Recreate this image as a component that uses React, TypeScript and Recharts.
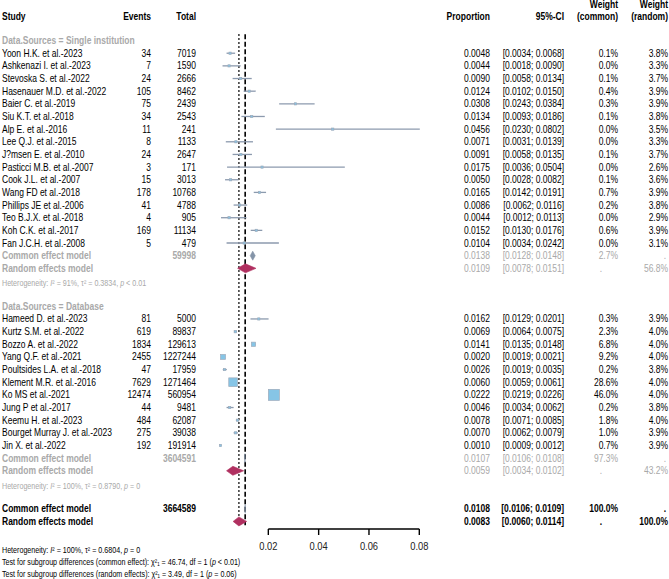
import React from 'react';
import { ComposedChart, Scatter, XAxis, YAxis, ReferenceLine } from 'recharts';

// ---------- data ----------
const singleNames = ['Yoon H.K. et al.-2023', 'Ashkenazi I. et al.-2023', 'Stevoska S. et al.-2022', 'Hasenauer M.D. et al.-2022', 'Baier C. et al.-2019', 'Siu K.T. et al.-2018', 'Alp E. et al.-2016', 'Lee Q.J. et al.-2015', 'J?msen E. et al.-2010', 'Pasticci M.B. et al.-2007', 'Cook J.L. et al.-2007', 'Wang FD et al.-2018', 'Phillips JE et al.-2006', 'Teo B.J.X. et al.-2018', 'Koh C.K. et al.-2017', 'Fan J.C.H. et al.-2008'];
const singleEvents = [34, 7, 24, 105, 75, 34, 11, 8, 24, 3, 15, 178, 41, 4, 169, 5];
const singleTotals = [7019, 1590, 2666, 8462, 2439, 2543, 241, 1133, 2647, 171, 3013, 10768, 4788, 905, 11134, 479];
const singleProp = [0.0048, 0.0044, 0.0090, 0.0124, 0.0308, 0.0134, 0.0456, 0.0071, 0.0091, 0.0175, 0.0050, 0.0165, 0.0086, 0.0044, 0.0152, 0.0104];
const singleLower = [0.0034, 0.0018, 0.0058, 0.0102, 0.0243, 0.0093, 0.0230, 0.0031, 0.0058, 0.0036, 0.0028, 0.0142, 0.0062, 0.0012, 0.0130, 0.0034];
const singleUpper = [0.0068, 0.0090, 0.0134, 0.0150, 0.0384, 0.0186, 0.0802, 0.0139, 0.0135, 0.0504, 0.0082, 0.0191, 0.0116, 0.0113, 0.0176, 0.0242];
const singleWCommon = [0.1, 0.0, 0.1, 0.4, 0.3, 0.1, 0.0, 0.0, 0.1, 0.0, 0.1, 0.7, 0.2, 0.0, 0.6, 0.0];
const singleWRandom = [3.8, 3.3, 3.7, 3.9, 3.9, 3.8, 3.5, 3.3, 3.7, 2.6, 3.6, 3.9, 3.8, 2.9, 3.9, 3.1];

const dbNames = ['Hameed D. et al.-2023', 'Kurtz S.M. et al.-2022', 'Bozzo A. et al.-2022', 'Yang Q.F. et al.-2021', 'Poultsides L.A. et al.-2018', 'Klement M.R. et al.-2016', 'Ko MS et al.-2021', 'Jung P et al.-2017', 'Keemu H. et al.-2023', 'Bourget Murray J. et al.-2023', 'Jin X. et al.-2022'];
const dbEvents = [81, 619, 1834, 2455, 47, 7629, 12474, 44, 484, 275, 192];
const dbTotals = [5000, 89837, 129613, 1227244, 17959, 1271464, 560954, 9481, 62087, 39038, 191914];
const dbProp = [0.0162, 0.0069, 0.0141, 0.0020, 0.0026, 0.0060, 0.0222, 0.0046, 0.0078, 0.0070, 0.0010];
const dbLower = [0.0129, 0.0064, 0.0135, 0.0019, 0.0019, 0.0059, 0.0219, 0.0034, 0.0071, 0.0062, 0.0009];
const dbUpper = [0.0201, 0.0075, 0.0148, 0.0021, 0.0035, 0.0061, 0.0226, 0.0062, 0.0085, 0.0079, 0.0012];
const dbWCommon = [0.3, 2.3, 6.8, 9.2, 0.2, 28.6, 46.0, 0.2, 1.8, 1.0, 0.7];
const dbWRandom = [3.9, 4.0, 4.0, 4.0, 3.8, 4.0, 4.0, 3.8, 4.0, 3.9, 3.9];

// pooled: [estimate, lower, upper]
const singleCommon = [0.0138, 0.0128, 0.0148];
const singleRandom = [0.0109, 0.0078, 0.0151];
const singleTotal = 59998;
const singleWeights = ['2.7%', '56.8%'];
const singleHet = ['91%', '0.3834', '< 0.01'];

const dbCommon = [0.0107, 0.0106, 0.0108];
const dbRandom = [0.0059, 0.0034, 0.0102];
const dbTotal = 3604591;
const dbWeights = ['97.3%', '43.2%'];
const dbHet = ['100%', '0.8790', '= 0'];

const overallCommon = [0.0108, 0.0106, 0.0109];
const overallRandom = [0.0083, 0.0060, 0.0114];
const overallTotal = 3664589;

const xTicks = [0.02, 0.04, 0.06, 0.08];

// ---------- styles ----------
const FONT = "'Liberation Sans', Arial, Helvetica, sans-serif";
const GREY = '#a9a9a9';
const CI_COLOR = '#8c9aae';
const SQ_FILL = '#86c5e6';
const SQ_STROKE = '#9eabbb';
const COMMON_DIAMOND = '#8494a8';
const RANDOM_DIAMOND = '#b03060';

const COL = { study: 2, events: 151, total: 196, prop: 490, ci: 564, wc: 618, wr: 668 };

const f4 = (v: number) => v.toFixed(4);
const ci = (lo: number, hi: number) => `[${f4(lo)}; ${f4(hi)}]`;
const pct = (v: number) => `${v.toFixed(1)}%`;

type TP = { x: number; y: number; anchor?: string; bold?: boolean; color?: string; size?: number; children?: any };
const Txt = ({ x, y, anchor = 'start', bold = false, color = '#000', size = 10, children }: TP) => (
  <text
    transform={`translate(${x},${y}) scale(0.85,1)`}
    textAnchor={anchor as any}
    dy="0.35em"
    fontFamily={FONT}
    fontSize={size}
    fontWeight={bold ? 'bold' : 'normal'}
    fill={color}
  >
    {children}
  </text>
);

const HetText = ({ x, y, color, vals }: { x: number; y: number; color: string; vals: string[] }) => (
  <Txt x={x} y={y} size={8.4} color={color}>
    Heterogeneity: <tspan fontStyle="italic">I</tspan>² = {vals[0]}, τ² = {vals[1]}, <tspan fontStyle="italic">p</tspan> {vals[2]}
  </Txt>
);

// ---------- rows ----------
type Row = any;
const rows: Row[] = [];
const studies: Row[] = [];

const addGroup = (
  start: number, title: string, names: string[], ev: number[], tot: number[], p: number[], lo: number[], hi: number[],
  wc: number[], wr: number[], total: number, com: number[], ran: number[], w: string[], het: string[]
) => {
  rows.push({ x: 0, y: start - 1, kind: 'group', label: title });
  names.forEach((n, i) => {
    const r = { x: p[i], y: start + i, kind: 'study', name: n, ev: ev[i], tot: tot[i], p: p[i], lo: lo[i], hi: hi[i], wc: wc[i], wr: wr[i] };
    rows.push({ ...r, x: 0 });
    studies.push(r);
  });
  const c = start + names.length;
  rows.push({ x: 0, y: c, kind: 'subCommon', tot: total, est: com, w: w[0] });
  rows.push({ x: 0, y: c + 1, kind: 'subRandom', est: ran, w: w[1] });
  rows.push({ x: 0, y: c + 2, kind: 'het', vals: het });
};

addGroup(0, 'Data.Sources = Single institution', singleNames, singleEvents, singleTotals, singleProp, singleLower, singleUpper, singleWCommon, singleWRandom, singleTotal, singleCommon, singleRandom, singleWeights, singleHet);
addGroup(21, 'Data.Sources = Database', dbNames, dbEvents, dbTotals, dbProp, dbLower, dbUpper, dbWCommon, dbWRandom, dbTotal, dbCommon, dbRandom, dbWeights, dbHet);
rows.push({ x: 0, y: 36, kind: 'allCommon', tot: overallTotal, est: overallCommon });
rows.push({ x: 0, y: 37, kind: 'allRandom', est: overallRandom });

const diamonds = [
  { y: 16, est: singleCommon, color: COMMON_DIAMOND },
  { y: 17, est: singleRandom, color: RANDOM_DIAMOND },
  { y: 32, est: dbCommon, color: COMMON_DIAMOND },
  { y: 33, est: dbRandom, color: RANDOM_DIAMOND },
  { y: 36, est: overallCommon, color: COMMON_DIAMOND },
  { y: 37, est: overallRandom, color: RANDOM_DIAMOND },
];

// ---------- shapes ----------
const TextRow = (props: any) => {
  const { cy, payload } = props;
  const d = payload;
  const y = cy;
  if (d.kind === 'group') return <Txt x={COL.study} y={y} bold color={GREY}>{d.label}</Txt>;
  if (d.kind === 'study')
    return (
      <g>
        <Txt x={COL.study} y={y}>{d.name}</Txt>
        <Txt x={COL.events} y={y} anchor="end">{d.ev}</Txt>
        <Txt x={COL.total} y={y} anchor="end">{d.tot}</Txt>
        <Txt x={COL.prop} y={y} anchor="end">{f4(d.p)}</Txt>
        <Txt x={COL.ci} y={y} anchor="end">{ci(d.lo, d.hi)}</Txt>
        <Txt x={COL.wc} y={y} anchor="end">{pct(d.wc)}</Txt>
        <Txt x={COL.wr} y={y} anchor="end">{pct(d.wr)}</Txt>
      </g>
    );
  if (d.kind === 'subCommon' || d.kind === 'allCommon') {
    const all = d.kind === 'allCommon';
    const c = all ? '#000' : GREY;
    return (
      <g>
        <Txt x={COL.study} y={y} bold color={c}>Common effect model</Txt>
        <Txt x={COL.total} y={y} anchor="end" bold color={c}>{d.tot}</Txt>
        <Txt x={COL.prop} y={y} anchor="end" bold={all} color={c}>{f4(d.est[0])}</Txt>
        <Txt x={COL.ci} y={y} anchor="end" bold={all} color={c}>{ci(d.est[1], d.est[2])}</Txt>
        <Txt x={COL.wc} y={y} anchor="end" bold={all} color={c}>{all ? '100.0%' : d.w}</Txt>
        <Txt x={COL.wr - 2} y={y} anchor="end" bold={all} color={c}>.</Txt>
      </g>
    );
  }
  if (d.kind === 'subRandom' || d.kind === 'allRandom') {
    const all = d.kind === 'allRandom';
    const c = all ? '#000' : GREY;
    return (
      <g>
        <Txt x={COL.study} y={y} bold color={c}>Random effects model</Txt>
        <Txt x={COL.prop} y={y} anchor="end" bold={all} color={c}>{f4(d.est[0])}</Txt>
        <Txt x={COL.ci} y={y} anchor="end" bold={all} color={c}>{ci(d.est[1], d.est[2])}</Txt>
        <Txt x={COL.wc - 16} y={y} anchor="end" bold={all} color={c}>.</Txt>
        <Txt x={COL.wr} y={y} anchor="end" bold={all} color={c}>{all ? '100.0%' : d.w}</Txt>
      </g>
    );
  }
  if (d.kind === 'het') return <HetText x={COL.study} y={y + 2.5} color={GREY} vals={d.vals} />;
  return <g />;
};

const Square = (props: any) => {
  const { cx, cy, payload } = props;
  const s = Math.max(2.2, 11 * Math.sqrt(payload.wc / 46));
  return <rect x={cx - s / 2} y={cy - s / 2} width={s} height={s} fill={SQ_FILL} stroke={SQ_STROKE} strokeWidth={0.7} />;
};

const diamondShape = (est: number[], color: string) => (props: any) => {
  const { x1, x2, y1 } = props;
  const xc = x1 + ((x2 - x1) * (est[0] - est[1])) / (est[2] - est[1]);
  const h = 4.5;
  return <polygon points={`${x1},${y1} ${xc},${y1 - h} ${x2},${y1} ${xc},${y1 + h}`} fill={color} stroke={color} strokeWidth={0.6} />;
};

const AxisTick = (props: any) => {
  const { x, y, payload } = props;
  return (
    <text
      transform={`translate(${x},${y + 9}) scale(0.85,1)`}
      textAnchor="middle"
      dy="0.35em"
      fontFamily={FONT}
      fontSize={11}
      fill="#222"
    >
      {payload.value.toFixed(2)}
    </text>
  );
};

const W = 669;
const H = 579;

export default function App() {
  return (
    <div style={{ position: 'absolute', left: 0, top: 0, width: W, height: H, background: '#fff' }}>
      <ComposedChart width={W} height={H} margin={{ top: 2.6, right: 249.7, bottom: 0, left: 218 }}>
        <XAxis
          type="number"
          dataKey="x"
          domain={[0, 0.08]}
          ticks={xTicks}
          axisLine={false}
          tickLine={{ stroke: '#000', strokeWidth: 1.4 }}
          tickSize={6}
          tick={<AxisTick />}
          height={50}
        />
        <YAxis type="number" dataKey="y" domain={[-4, 37.6]} reversed hide />
        {/* axis line from 0.02 to 0.08 */}
        <ReferenceLine segment={[{ x: xTicks[0], y: 37.6 }, { x: xTicks[xTicks.length - 1], y: 37.6 }]} stroke="#000" strokeWidth={1.4} ifOverflow="visible" />
        {/* pooled estimate reference lines */}
        <ReferenceLine segment={[{ x: overallRandom[0], y: -1.5 }, { x: overallRandom[0], y: 37.3 }]} stroke="#000" strokeWidth={1.6} strokeDasharray="1.5 2.5" ifOverflow="visible" />
        <ReferenceLine segment={[{ x: overallCommon[0], y: -1.5 }, { x: overallCommon[0], y: 37.3 }]} stroke="#000" strokeWidth={1.6} strokeDasharray="5 2.5" ifOverflow="visible" />
        {studies.map((s, i) => (
          <ReferenceLine key={'ci' + i} segment={[{ x: s.lo, y: s.y }, { x: s.hi, y: s.y }]} stroke={CI_COLOR} strokeWidth={1.3} ifOverflow="visible" />
        ))}
        {diamonds.map((d, i) => (
          <ReferenceLine key={'dm' + i} segment={[{ x: d.est[1], y: d.y }, { x: d.est[2], y: d.y }]} ifOverflow="visible" shape={diamondShape(d.est, d.color)} />
        ))}
        <Scatter data={studies} dataKey="y" shape={<Square />} isAnimationActive={false} />
        <Scatter data={rows} dataKey="y" shape={<TextRow />} isAnimationActive={false} />
      </ComposedChart>
      <svg width={W} height={H} style={{ position: 'absolute', left: 0, top: 0, pointerEvents: 'none' }}>
        <Txt x={COL.study} y={16} bold>Study</Txt>
        <Txt x={COL.events} y={16} anchor="end" bold>Events</Txt>
        <Txt x={COL.total} y={16} anchor="end" bold>Total</Txt>
        <Txt x={COL.prop} y={16} anchor="end" bold>Proportion</Txt>
        <Txt x={COL.ci} y={16} anchor="end" bold>95%-CI</Txt>
        <Txt x={COL.wc} y={4} anchor="end" bold>Weight</Txt>
        <Txt x={COL.wc} y={16} anchor="end" bold>(common)</Txt>
        <Txt x={COL.wr} y={4} anchor="end" bold>Weight</Txt>
        <Txt x={COL.wr} y={16} anchor="end" bold>(random)</Txt>
        <HetText x={COL.study} y={550} color="#000" vals={['100%', '0.6804', '= 0']} />
        <Txt x={COL.study} y={562} size={8.4}>
          Test for subgroup differences (common effect): χ²₁ = 46.74, df = 1 (<tspan fontStyle="italic">p</tspan> &lt; 0.01)
        </Txt>
        <Txt x={COL.study} y={574} size={8.4}>
          Test for subgroup differences (random effects): χ²₁ = 3.49, df = 1 (<tspan fontStyle="italic">p</tspan> = 0.06)
        </Txt>
      </svg>
    </div>
  );
}
